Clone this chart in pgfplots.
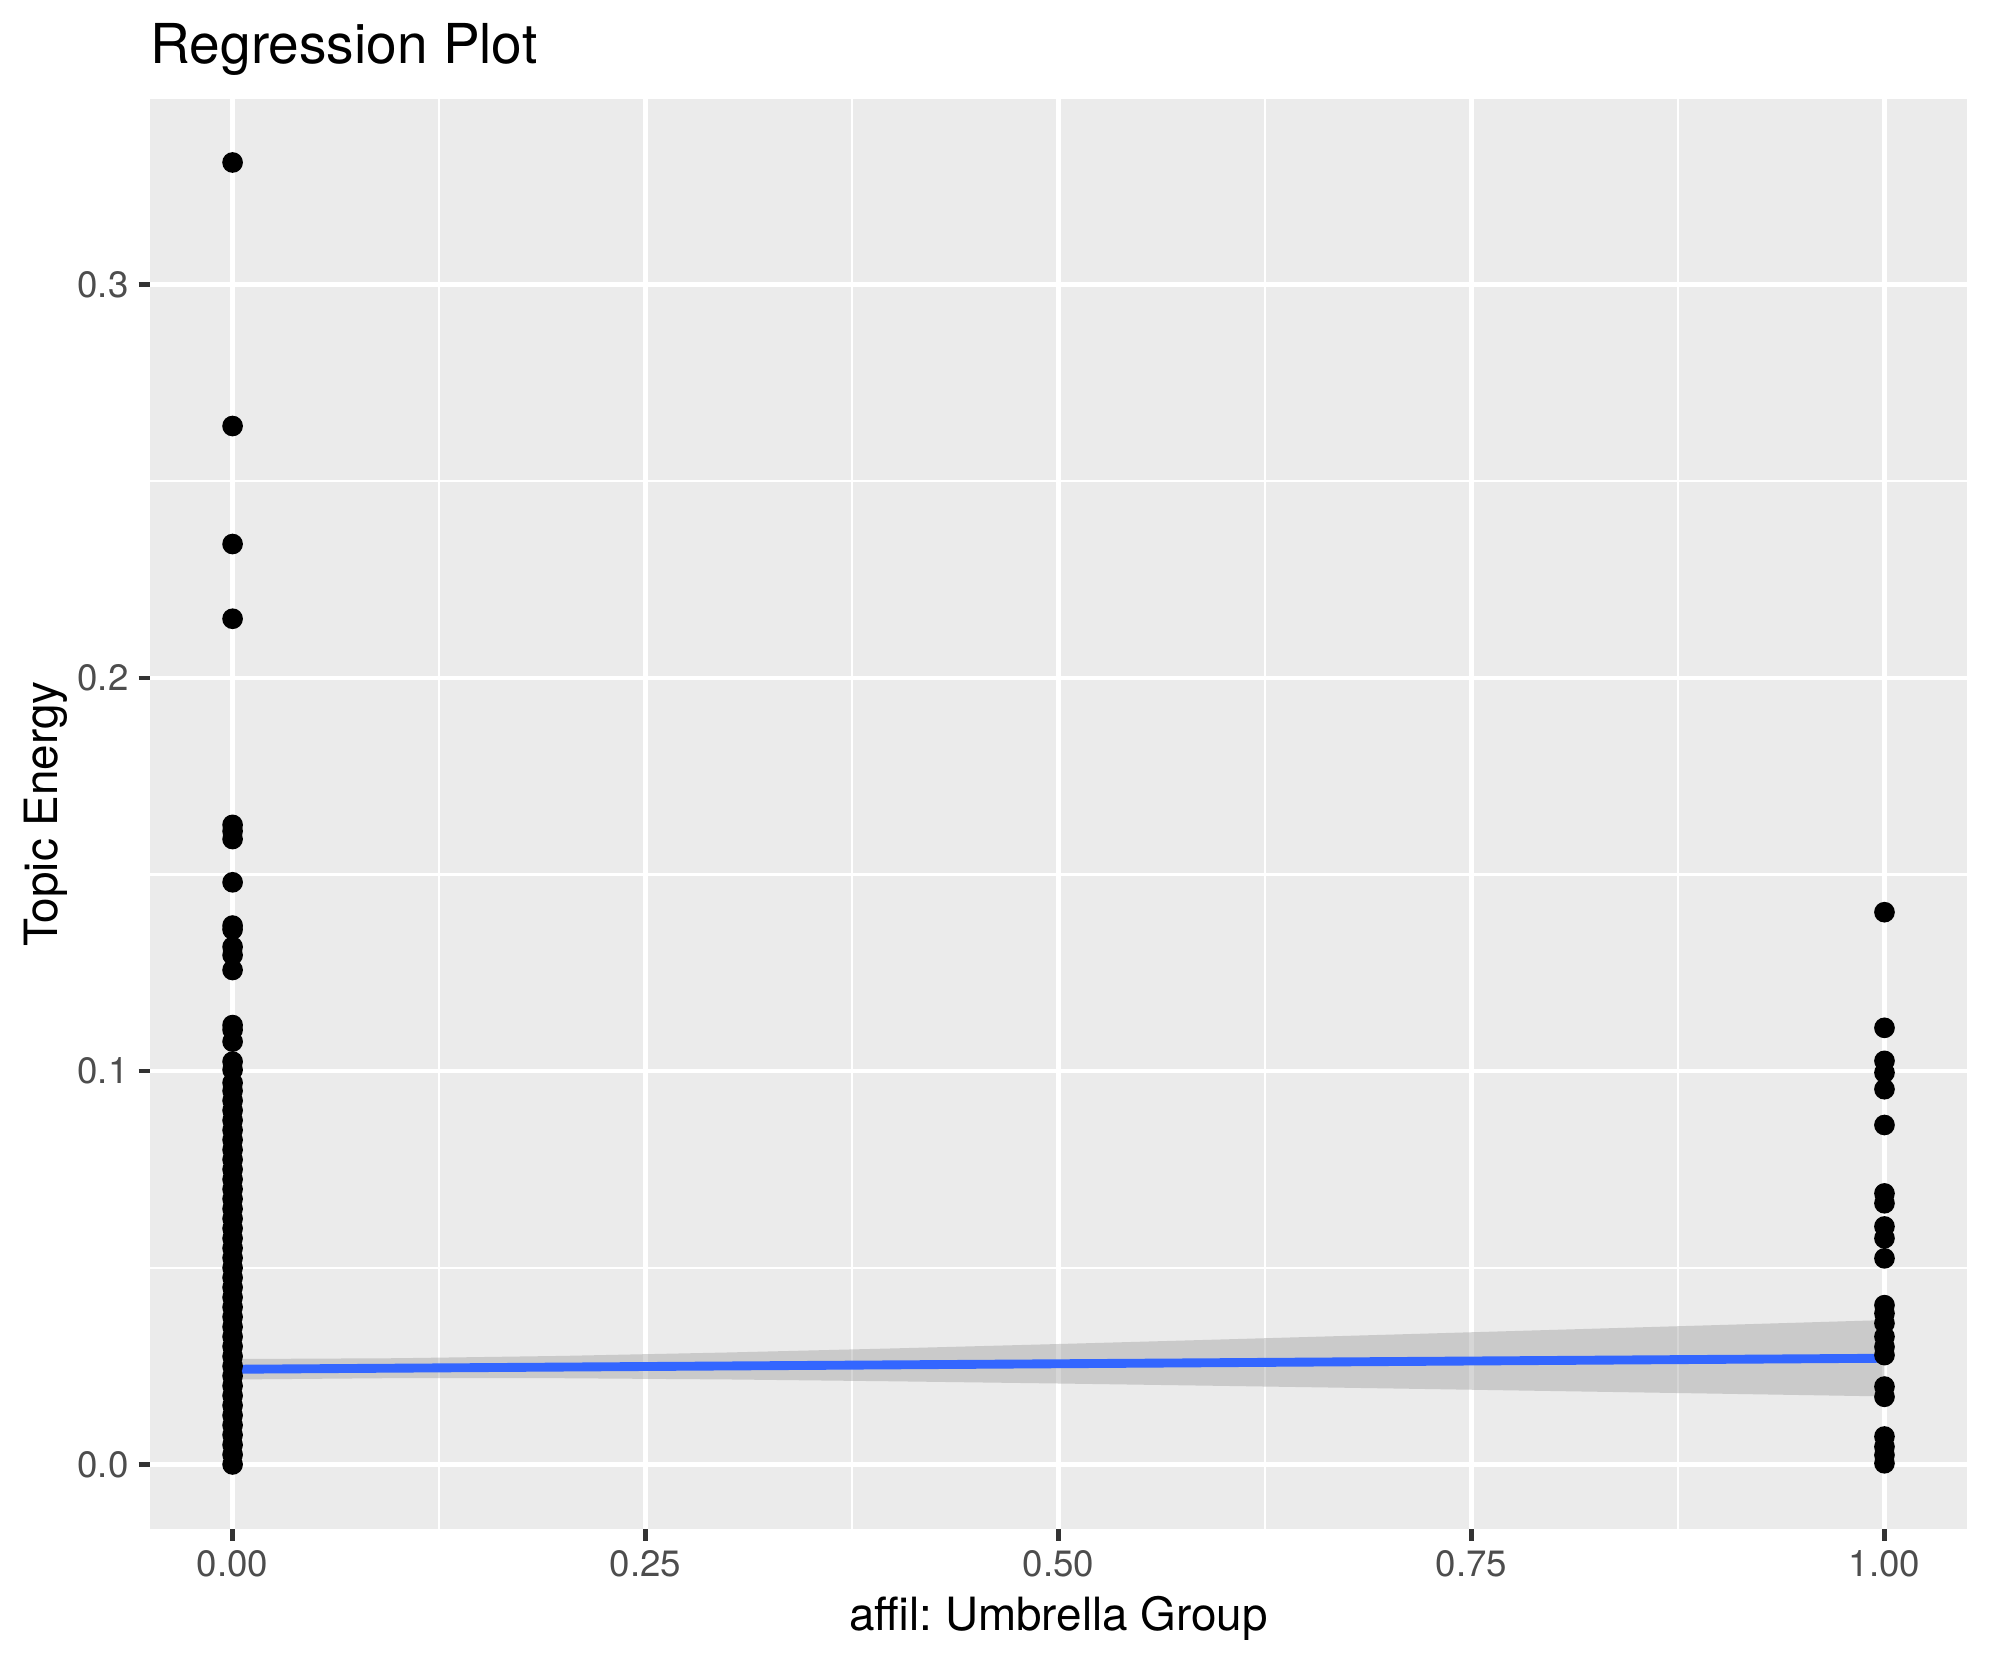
\documentclass[border=0pt]{standalone}
\usepackage{fontspec}
\setmainfont{TeX Gyre Heros}
\usepackage{pgfplots}
\pgfplotsset{compat=1.18}
\frenchspacing
\definecolor{panelbg}{HTML}{EBEBEB}
\definecolor{ticklab}{HTML}{4D4D4D}
\definecolor{tickcol}{HTML}{333333}
\definecolor{smoothblue}{HTML}{3366FF}
\definecolor{ribbon}{HTML}{999999}
\begin{document}
\begin{tikzpicture}
\useasboundingbox (-36pt,-32.6pt) rectangle (441.6pt,367pt);
\begin{axis}[
  at={(0,0)}, anchor=south west,
  scale only axis, width=436.1pt, height=343.2pt,
  xmin=-0.05, xmax=1.05, ymin=-0.01645, ymax=0.3471,
  axis background/.style={fill=panelbg},
  axis line style={draw=none},
  xtick={0,0.25,0.5,0.75,1}, xticklabels={0.00,0.25,0.50,0.75,1.00},
  ytick={0,0.1,0.2,0.3}, yticklabels={0.0,0.1,0.2,0.3},
  minor xtick={0.125,0.375,0.625,0.875}, minor ytick={0.05,0.15,0.25},
  grid=both,
  major grid style={white, line width=1.07pt},
  minor grid style={white, line width=0.53pt},
  tick align=outside, major tick length=2.75pt, minor tick length=0pt,
  xtick pos=bottom, ytick pos=left,
  major tick style={tickcol, line width=1.07pt},
  xticklabel style={font=\fontsize{8.8}{10}\selectfont, text=ticklab, anchor=north, inner sep=0pt},
  yticklabel style={font=\fontsize{8.8}{10}\selectfont, text=ticklab, anchor=east, inner sep=0pt},
  xticklabel shift=2.2pt, yticklabel shift=2.2pt,
  title={Regression Plot},
  title style={at={(axis description cs:0,1.02506)}, anchor=base west, yshift=-6pt, inner sep=0pt, font=\fontsize{13.2}{15}\selectfont},
  xlabel={affil: Umbrella Group},
  xlabel style={at={(axis description cs:0.5,-0.0711)}, anchor=base, inner sep=0pt, font=\fontsize{11}{13}\selectfont},
  ylabel={Topic Energy},
  ylabel style={at={(axis description cs:-0.05114,0.5)}, anchor=base, inner sep=0pt, font=\fontsize{11}{13}\selectfont},
]
% points at x = 0
\addplot[only marks, mark=*, mark size=2.28pt, black, mark options={draw=black, fill=black}] coordinates {
(0,0.331) (0,0.264) (0,0.234) (0,0.215) (0,0.1626) (0,0.161) (0,0.159) (0,0.148)
(0,0.137) (0,0.136) (0,0.1316) (0,0.1295) (0,0.1257) (0,0.1117) (0,0.1105) (0,0.1075)
(0,0.1024) (0,0.1003) (0,0.097)
(0,0.095) (0,0.0925) (0,0.090) (0,0.0875) (0,0.085) (0,0.0825) (0,0.080) (0,0.0775)
(0,0.075) (0,0.0725) (0,0.070) (0,0.0675) (0,0.065) (0,0.0625) (0,0.060) (0,0.0575)
(0,0.055) (0,0.0525) (0,0.050) (0,0.0475) (0,0.045) (0,0.0425) (0,0.040) (0,0.0375)
(0,0.035) (0,0.0325) (0,0.030) (0,0.0275) (0,0.025) (0,0.0225) (0,0.020) (0,0.0175)
(0,0.015) (0,0.0125) (0,0.010) (0,0.0075) (0,0.005) (0,0.0025) (0,0.000)
};
% points at x = 1
\addplot[only marks, mark=*, mark size=2.28pt, black, mark options={draw=black, fill=black}] coordinates {
(1,0.1404) (1,0.1110) (1,0.1026) (1,0.0996) (1,0.0954) (1,0.0863)
(1,0.0689) (1,0.0664) (1,0.0605) (1,0.0575) (1,0.0524)
(1,0.0405) (1,0.0384) (1,0.0359) (1,0.0325) (1,0.0299) (1,0.0278)
(1,0.0198) (1,0.0172)
(1,0.0071) (1,0.0045) (1,0.0024) (1,0.0003)
};
% confidence ribbon
\addplot[draw=none, fill=ribbon, fill opacity=0.4] coordinates {
(0,0.02160) (0.1,0.02195) (0.2,0.02192) (0.3,0.02161) (0.4,0.02114) (0.5,0.02058)
(0.6,0.01997) (0.7,0.01933) (0.8,0.01866) (0.9,0.01799) (1,0.01730)
(1,0.03670) (0.9,0.03545) (0.8,0.03422) (0.7,0.03300) (0.6,0.03179) (0.5,0.03062)
(0.4,0.02950) (0.3,0.02847) (0.2,0.02760) (0.1,0.02701) (0,0.02680)
} -- cycle;
% regression line
\addplot[smoothblue, line width=2.13pt] coordinates {(0,0.0242) (1,0.0270)};
\end{axis}
\end{tikzpicture}
\end{document}
